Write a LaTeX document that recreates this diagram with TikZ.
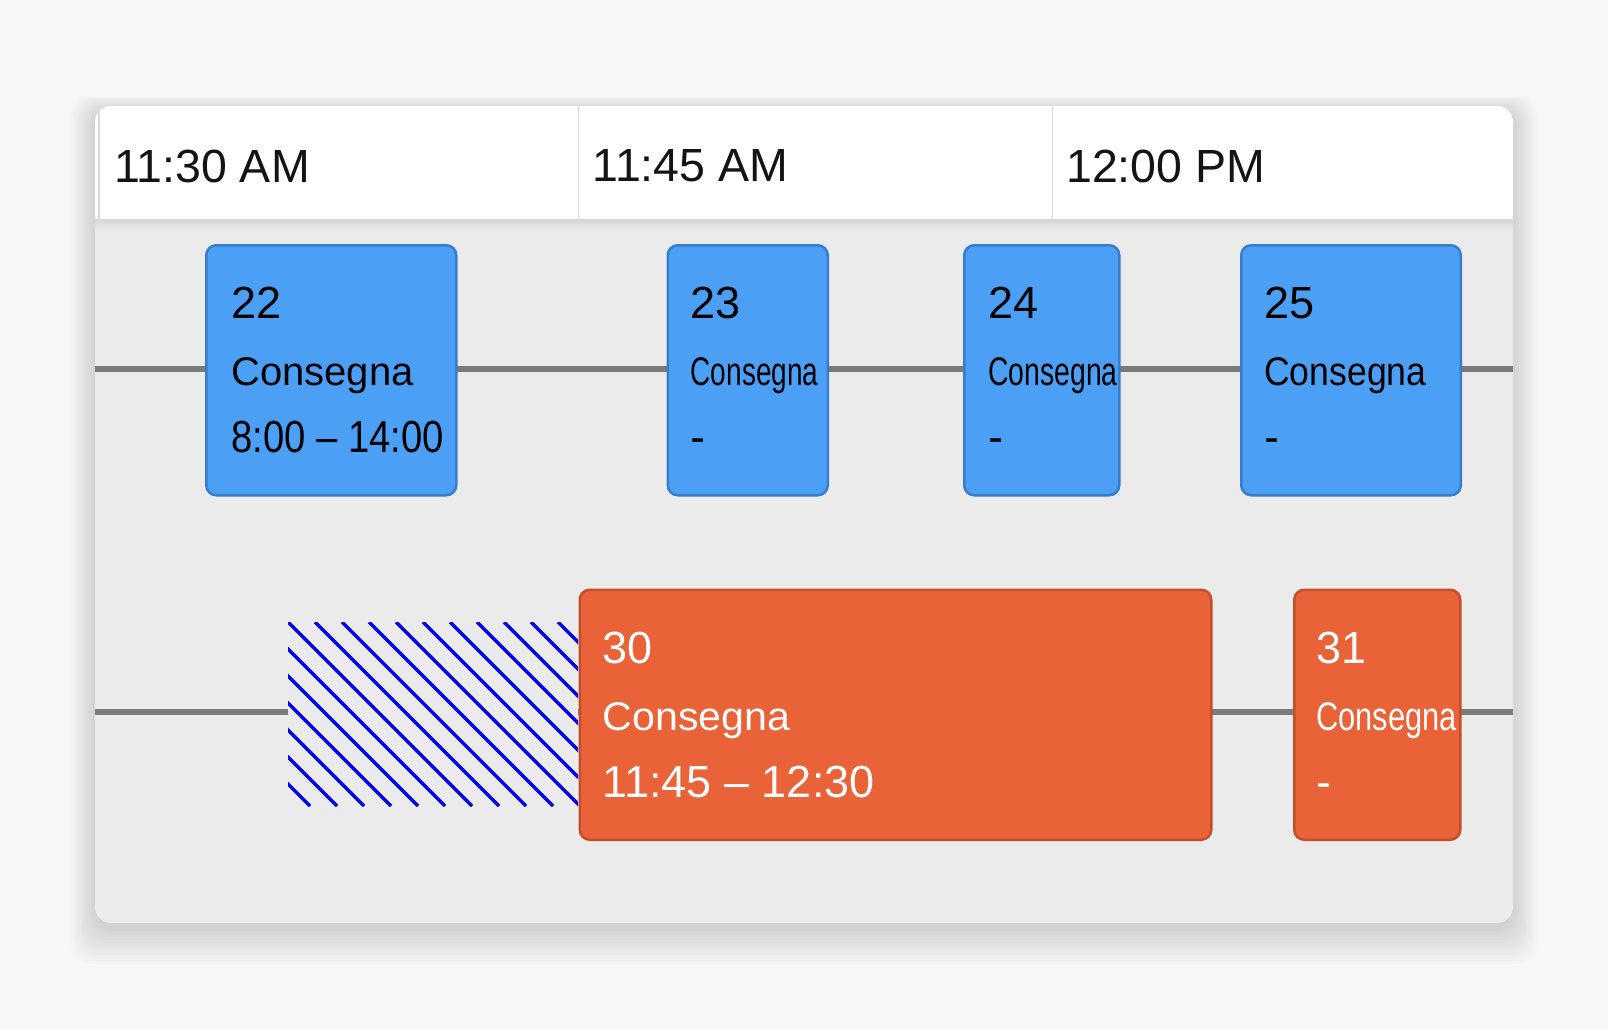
\documentclass[tikz,border=0pt]{standalone}
\usepackage{fontspec}
\setmainfont{Liberation Sans}
\usepackage{graphicx}
\usepackage{tikz}
\usetikzlibrary{positioning}
\definecolor{pagebg}{RGB}{247,247,247}
\definecolor{bodygray}{RGB}{235,235,235}
\definecolor{tblue}{RGB}{75,160,245}
\definecolor{tblueline}{RGB}{55,125,205}
\definecolor{tred}{RGB}{233,98,56}
\definecolor{tredline}{RGB}{195,78,45}
\definecolor{trackgray}{RGB}{122,122,122}
\definecolor{hatchblue}{RGB}{0,0,235}
\definecolor{divgray}{RGB}{218,218,218}
\newcommand{\tightword}[2]{\scalebox{#1}[1]{#2}}
\newcommand{\numtxt}[1]{{\fontsize{45}{67}\selectfont\rule{0pt}{34pt}#1}}
\newcommand{\timetxt}[2][1]{{\fontsize{45}{67}\selectfont\scalebox{#1}[1]{#2}}}
\tikzset{
  tbox/.style={rectangle, rounded corners=10pt, line width=2.5pt, anchor=north west, inner sep=0pt, minimum height=250pt},
  tboxblue/.style={tbox, fill=tblue, draw=tblueline},
  tboxred/.style={tbox, fill=tred, draw=tredline},
  ttext/.style={align=left, inner sep=0pt, yshift=1.5pt, font=\fontsize{40}{67}\selectfont},
  ttextw/.style={ttext, text=white},
  hlabel/.style={inner sep=0pt, anchor=west, font=\fontsize{46.5}{50}\selectfont, text=black!92},
  track/.style={line width=6pt, draw=trackgray},
  hatchline/.style={line width=3.4pt, draw=hatchblue}
}

\begin{document}
\begin{tikzpicture}[x=1pt, y=-1pt]
\useasboundingbox (0,0) rectangle (1608,1029);
\fill[pagebg] (0,0) rectangle (1608,1029);
% soft shadow of the card
\foreach \s in {1,...,12}
  \fill[black, opacity=0.011, rounded corners=20pt] ({95-2*\s},{110-1.2*\s}) rectangle ({1513+2*\s},{928+3*\s});
% card with header
\fill[bodygray, rounded corners=16pt] (95,106) rectangle (1513,923);
\begin{scope}
  \clip[rounded corners=16pt] (95,106) rectangle (1513,923);
  \fill[white] (95,106) rectangle (1513,219.5);
  \shade[top color=black!16, bottom color=bodygray] (95,219.5) rectangle (1513,231);
  \draw[divgray, line width=1.2pt] (99,106) -- (99,219.5);
\end{scope}
\draw[divgray, line width=1.2pt] (578.4,106) -- (578.4,219.5);
\draw[divgray, line width=1.2pt] (1052.2,106) -- (1052.2,219.5);
\node[hlabel] (h1130) at (114,166) {11:30 AM};
\node[hlabel] (h1145) at (592.5,166) {11:45 AM};
\node[hlabel] (h1200) at (1066,166) {12:00 PM};

% tracks
\coordinate (r1a) at (95,368.5);
\coordinate (r1b) at (1513,368.5);
\coordinate (r2a) at (95,712);
\coordinate (r2b) at (1513,712);
\draw[track] (r1a) -- (r1b);
\draw[track] (r2a) -- (r2b);

% waiting time before 30
\fill[bodygray] (288,622) rectangle (578,806);
\begin{scope}
  \clip (288,622) rectangle (578,806);
  \foreach \k in {-8,...,12}
    \draw[hatchline] ({288+27*\k},622) -- ({288+27*\k+184},806);
\end{scope}

% stops
\node[tboxblue, minimum width=250pt] (b22) at (205,244) {};
\node[tboxblue, minimum width=160pt] (b23) at (666.5,244) {};
\node[tboxblue, minimum width=155pt] (b24) at (963,244) {};
\node[tboxblue, minimum width=219.5pt] (b25) at (1240,244) {};
\node[tboxred, minimum width=631.5pt] (b30) at (578.5,588.5) {};
\node[tboxred, minimum width=166pt] (b31) at (1293,588.5) {};

\node[ttext, right=26pt of b22.west] (t22) {\numtxt{22}\\Consegna\\\timetxt[0.85]{8:00 -- 14:00}};
\node[ttext, right=24pt of b23.west] (t23) {\numtxt{23}\\\tightword{0.70}{Consegna}\\\timetxt{-}};
\node[ttext, right=25pt of b24.west] (t24) {\numtxt{24}\\\tightword{0.71}{Consegna}\\\timetxt{-}};
\node[ttext, right=24pt of b25.west] (t25) {\numtxt{25}\\\tightword{0.89}{Consegna}\\\timetxt{-}};
\node[ttextw, right=24pt of b30.west] (t30) {\numtxt{30}\\\tightword{1.03}{Consegna}\\\timetxt{11:45 -- 12:30}};
\node[ttextw, right=23pt of b31.west] (t31) {\numtxt{31}\\\tightword{0.77}{Consegna}\\\timetxt{-}};
\end{tikzpicture}
\end{document}
